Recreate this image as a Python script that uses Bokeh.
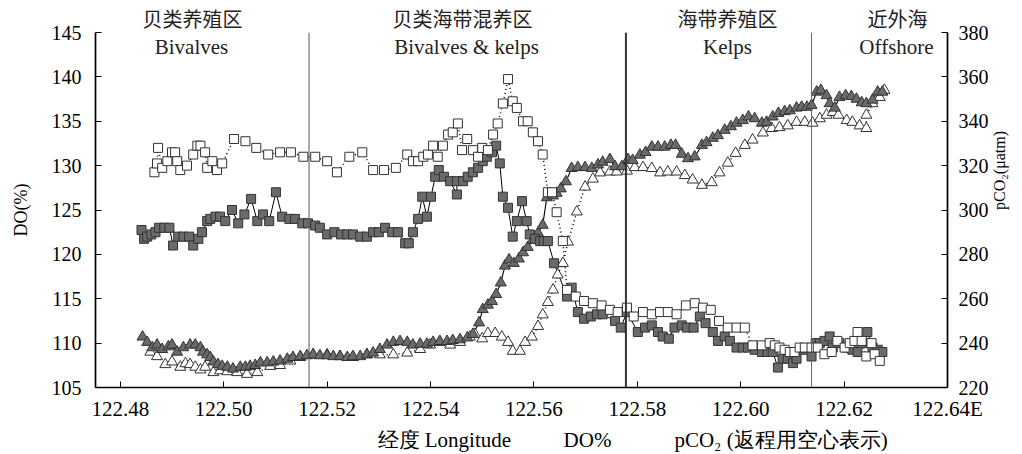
from bokeh.plotting import figure
from bokeh.models import Range1d, LinearAxis, FixedTicker, Span, Label, Title
from bokeh.embed import file_html
from bokeh.resources import INLINE

# ---------------- data ----------------
# pCO2 outbound (filled squares, right axis)
pco2_out_lon = [122.4841, 122.4846, 122.4852, 122.4860, 122.4868, 122.4875, 122.4885, 122.4895, 122.4902, 122.4912,
                122.4922, 122.4933, 122.4941, 122.4951, 122.4958, 122.4968, 122.4974, 122.4984, 122.4993, 122.5003,
                122.5016, 122.5028, 122.5040, 122.5053, 122.5065, 122.5076, 122.5088, 122.5101, 122.5113, 122.5127,
                122.5138, 122.5152, 122.5163, 122.5177, 122.5186, 122.5200, 122.5214, 122.5227, 122.5239, 122.5250,
                122.5264, 122.5277, 122.5289, 122.5300, 122.5312, 122.5326, 122.5337, 122.5351, 122.5358, 122.5366,
                122.5376, 122.5384, 122.5393, 122.5401, 122.5409, 122.5416, 122.5426, 122.5438, 122.5451, 122.5451,
                122.5463, 122.5472, 122.5482, 122.5492, 122.5501, 122.5509, 122.5519, 122.5527, 122.5534, 122.5540,
                122.5550, 122.5559, 122.5567, 122.5577, 122.5586, 122.5592, 122.5602, 122.5612, 122.5619, 122.5627,
                122.5639, 122.5664, 122.5673, 122.5685, 122.5697, 122.5710, 122.5722, 122.5733, 122.5757, 122.5768,
                122.5780, 122.5801, 122.5815, 122.5828, 122.5840, 122.5849, 122.5861, 122.5872, 122.5886, 122.5896,
                122.5909, 122.5921, 122.5932, 122.5946, 122.5956, 122.5969, 122.5979, 122.5992, 122.6004, 122.6014,
                122.6027, 122.6041, 122.6052, 122.6062, 122.6072, 122.6081, 122.6091, 122.6101, 122.6108, 122.6122,
                122.6137, 122.6145, 122.6153, 122.6162, 122.6172, 122.6178, 122.6191, 122.6205, 122.6216, 122.6226,
                122.6236, 122.6245, 122.6255, 122.6265, 122.6274]
pco2_out_val = [291, 287, 288, 289, 290, 292, 292, 292, 284, 288,
                288, 288, 284, 287, 290, 295, 296, 297, 297, 295,
                300, 294, 298, 305, 295, 298, 295, 308, 297, 296,
                296, 294, 294, 293, 292, 289, 290, 289, 289, 289,
                288, 288, 290, 290, 292, 290, 290, 285, 285, 290,
                296, 306, 297, 306, 315, 318, 315, 313, 307, 313,
                313, 315, 317, 319, 322, 324, 326, 329, 321, 306,
                301, 288, 295, 304, 295, 289, 287, 286, 286, 286,
                276, 261, 265, 254, 251, 252, 253, 253, 250, 247,
                254, 245, 247, 248, 245, 243, 242, 247, 248, 247,
                247, 252, 249, 245, 241, 243, 241, 238, 238, 238,
                237, 236, 236, 236, 229, 233, 233, 231, 233, 237,
                234, 240, 240, 241, 243, 238, 240, 238, 237, 236,
                240, 245, 238, 237, 236]

# pCO2 return trip (open squares, right axis)
pco2_ret_lon = [122.4866, 122.4871, 122.4873, 122.4881, 122.4891, 122.4900, 122.4906, 122.4910, 122.4916, 122.4929,
                122.4941, 122.4949, 122.4955, 122.4964, 122.4968, 122.4978, 122.4987, 122.4997, 122.5020, 122.5042,
                122.5063, 122.5086, 122.5109, 122.5130, 122.5154, 122.5177, 122.5200, 122.5219, 122.5243, 122.5268,
                122.5289, 122.5310, 122.5333, 122.5355, 122.5366, 122.5376, 122.5386, 122.5395, 122.5405, 122.5414,
                122.5424, 122.5434, 122.5443, 122.5453, 122.5461, 122.5471, 122.5482, 122.5492, 122.5500, 122.5511,
                122.5521, 122.5530, 122.5540, 122.5550, 122.5559, 122.5567, 122.5579, 122.5588, 122.5598, 122.5608,
                122.5617, 122.5627, 122.5635, 122.5644, 122.5656, 122.5664, 122.5681, 122.5697, 122.5714, 122.5731,
                122.5747, 122.5762, 122.5780, 122.5793, 122.5811, 122.5828, 122.5844, 122.5859, 122.5876, 122.5894,
                122.5911, 122.5927, 122.5942, 122.5958, 122.5975, 122.5992, 122.6008, 122.6023, 122.6041, 122.6056,
                122.6066, 122.6075, 122.6085, 122.6095, 122.6104, 122.6114, 122.6124, 122.6137, 122.6149, 122.6162,
                122.6176, 122.6187, 122.6201, 122.6211, 122.6220, 122.6226, 122.6234, 122.6243, 122.6253, 122.6259,
                122.6269]
pco2_ret_val = [317, 321, 328, 319, 322, 326, 326, 322, 318, 320,
                325, 329, 329, 326, 319, 322, 318, 321, 332, 331,
                328, 325, 326, 326, 324, 324, 322, 317, 324, 326,
                318, 318, 319, 325, 322, 322, 324, 325, 329, 324,
                329, 334, 335, 339, 327, 332, 327, 324, 328, 327,
                334, 339, 348, 359, 349, 346, 340, 340, 335, 331,
                325, 308, 308, 299, 286, 264, 261, 259, 258, 257,
                255, 254, 256, 252, 254, 253, 254, 254, 253, 257,
                258, 256, 255, 250, 247, 247, 247, 239, 239, 240,
                239, 238, 237, 236, 236, 238, 238, 238, 238, 235,
                236, 241, 238, 240, 241, 245, 241, 234, 240, 235,
                232]

# DO% outbound (filled triangles, left axis)
do_out_lon = [122.4843, 122.4852, 122.4862, 122.4871, 122.4881, 122.4893, 122.4900, 122.4910, 122.4922, 122.4935,
              122.4945, 122.4955, 122.4960, 122.4968, 122.4974, 122.4980, 122.4989, 122.4997, 122.5007, 122.5018,
              122.5032, 122.5042, 122.5051, 122.5061, 122.5071, 122.5084, 122.5096, 122.5109, 122.5123, 122.5134,
              122.5148, 122.5161, 122.5173, 122.5186, 122.5200, 122.5212, 122.5225, 122.5239, 122.5250, 122.5264,
              122.5277, 122.5289, 122.5302, 122.5316, 122.5328, 122.5341, 122.5355, 122.5366, 122.5380, 122.5393,
              122.5405, 122.5418, 122.5432, 122.5443, 122.5457, 122.5471, 122.5482, 122.5494, 122.5501, 122.5511,
              122.5519, 122.5527, 122.5536, 122.5544, 122.5552, 122.5561, 122.5571, 122.5579, 122.5588, 122.5598,
              122.5608, 122.5617, 122.5625, 122.5637, 122.5644, 122.5652, 122.5662, 122.5673, 122.5685, 122.5699,
              122.5712, 122.5724, 122.5733, 122.5747, 122.5757, 122.5770, 122.5782, 122.5791, 122.5805, 122.5816,
              122.5828, 122.5840, 122.5853, 122.5865, 122.5874, 122.5886, 122.5898, 122.5911, 122.5925, 122.5934,
              122.5946, 122.5956, 122.5969, 122.5981, 122.5992, 122.6004, 122.6015, 122.6027, 122.6041, 122.6050,
              122.6062, 122.6073, 122.6085, 122.6095, 122.6108, 122.6118, 122.6128, 122.6137, 122.6147, 122.6155,
              122.6166, 122.6172, 122.6182, 122.6191, 122.6203, 122.6214, 122.6224, 122.6234, 122.6243, 122.6255,
              122.6265, 122.6274]
do_out_val = [110.7, 110.1, 109.5, 109.8, 109.3, 109.6, 109.8, 109.0, 109.5, 109.8,
              109.8, 109.5, 109.0, 108.7, 108.4, 107.9, 107.6, 107.4, 107.3, 107.1,
              107.3, 107.3, 107.4, 107.5, 107.8, 107.8, 107.9, 108.0, 108.2, 108.4,
              108.5, 108.6, 108.7, 108.6, 108.6, 108.5, 108.5, 108.4, 108.5, 108.5,
              108.7, 108.9, 109.3, 109.8, 110.1, 110.2, 110.1, 109.8, 109.9, 109.9,
              110.1, 110.2, 110.2, 110.3, 110.4, 110.6, 111.0, 112.3, 113.8, 114.3,
              114.7, 115.5, 116.8, 118.7, 119.4, 119.0, 119.5, 120.2, 120.8, 121.6,
              122.4, 123.3, 126.4, 126.6, 126.9, 127.4, 128.2, 129.7, 129.8, 129.8,
              129.7, 130.1, 130.4, 130.7, 129.9, 129.9, 130.7, 130.6, 131.2, 131.5,
              132.1, 132.1, 132.1, 132.3, 132.3, 131.3, 130.8, 131.0, 132.3, 132.6,
              133.1, 133.4, 134.0, 134.4, 134.8, 135.1, 135.5, 135.3, 134.8, 134.9,
              135.5, 135.9, 136.1, 136.2, 136.5, 136.6, 136.6, 136.8, 138.3, 138.5,
              137.9, 137.0, 136.5, 137.7, 137.9, 137.8, 137.5, 137.1, 137.0, 137.4,
              138.3, 138.3]

# DO% return trip (open triangles, left axis)
do_ret_lon = [122.4858, 122.4871, 122.4887, 122.4900, 122.4916, 122.4926, 122.4935, 122.4945, 122.4955, 122.4964,
              122.4980, 122.4993, 122.5007, 122.5026, 122.5045, 122.5065, 122.5090, 122.5109, 122.5129, 122.5148,
              122.5173, 122.5200, 122.5225, 122.5250, 122.5277, 122.5302, 122.5328, 122.5355, 122.5380, 122.5399,
              122.5418, 122.5438, 122.5457, 122.5476, 122.5486, 122.5500, 122.5511, 122.5525, 122.5538, 122.5550,
              122.5559, 122.5573, 122.5583, 122.5596, 122.5608, 122.5617, 122.5627, 122.5637, 122.5646, 122.5656,
              122.5666, 122.5683, 122.5699, 122.5714, 122.5728, 122.5747, 122.5760, 122.5780, 122.5795, 122.5811,
              122.5828, 122.5844, 122.5859, 122.5876, 122.5892, 122.5907, 122.5925, 122.5944, 122.5959, 122.5975,
              122.5990, 122.6008, 122.6023, 122.6043, 122.6060, 122.6075, 122.6091, 122.6108, 122.6124, 122.6139,
              122.6153, 122.6166, 122.6178, 122.6189, 122.6205, 122.6216, 122.6230, 122.6243, 122.6243, 122.6255,
              122.6269, 122.6278]
do_ret_val = [109.0, 108.5, 107.6, 107.9, 107.3, 107.7, 107.6, 107.3, 107.0, 107.3,
              106.7, 106.9, 106.8, 106.7, 106.5, 106.7, 107.4, 107.5, 108.0, 108.4,
              108.7, 108.7, 108.5, 108.4, 108.7, 108.7, 108.7, 108.9, 109.3, 109.8,
              110.1, 109.8, 110.1, 110.7, 111.0, 110.5, 111.1, 111.1, 110.7, 110.1,
              109.1, 109.1, 110.1, 110.7, 111.9, 113.2, 114.6, 116.0, 117.7, 119.0,
              121.4, 124.8, 127.6, 128.5, 129.2, 129.3, 129.3, 129.4, 129.8, 129.8,
              129.7, 129.2, 129.3, 129.3, 128.9, 128.4, 127.8, 128.1, 129.2, 130.3,
              131.4, 132.3, 132.9, 133.7, 134.2, 134.3, 134.5, 134.9, 134.9, 134.8,
              135.3, 135.7, 136.0, 135.7, 135.1, 134.9, 134.5, 134.2, 135.7, 137.0,
              137.7, 138.5]

# zone boundaries (longitude) and labels
zone_bounds = [122.5165, 122.5778, 122.6137]
zone_names_cn = ["贝类养殖区", "贝类海带混养区", "海带养殖区", "近外海"]
zone_names_en = ["Bivalves", "Bivalves & kelps", "Kelps", "Offshore"]

x_ticks = [122.48, 122.50, 122.52, 122.54, 122.56, 122.58, 122.60, 122.62, 122.64]
x_tick_labels = ["122.48", "122.50", "122.52", "122.54", "122.56", "122.58", "122.60", "122.62", "122.64E"]
do_ticks = [105, 110, 115, 120, 125, 130, 135, 140, 145]
pco2_ticks = [220, 240, 260, 280, 300, 320, 340, 360, 380]

bottom_texts = ["经度 Longitude", "DO%", "pCO₂ (返程用空心表示)"]

SERIF = "Liberation Serif"
IDEO = "\u3000"   # ideographic space (1 em)
EM = "\u2003"
EN = "\u2002"
FOUR = "\u2005"

# ---------------- figure ----------------
p = figure(width=1022, height=454, output_backend="svg", toolbar_location=None,
           x_range=Range1d(122.4752, 122.6400), y_range=Range1d(105, 145),
           min_border_left=95, min_border_right=75, min_border_top=32, min_border_bottom=66,
           x_axis_location=None, y_axis_location=None)
p.extra_y_ranges = {"pco2": Range1d(220, 380)}
p.outline_line_color = None
p.xgrid.visible = False
p.ygrid.visible = False
p.background_fill_color = "white"
p.border_fill_color = "white"


def style_axis(ax):
    ax.axis_line_color = "black"
    ax.axis_line_width = 1.7
    ax.major_tick_in = 6
    ax.major_tick_out = 0
    ax.minor_tick_line_color = None
    ax.major_tick_line_color = "black"
    ax.major_label_text_font = SERIF
    ax.major_label_text_font_size = "20px"
    ax.major_label_text_color = "black"


xaxis = LinearAxis(ticker=FixedTicker(ticks=x_ticks))
style_axis(xaxis)
xaxis.major_label_text_font_size = "21px"
xaxis.major_label_overrides = {t: l for t, l in zip(x_ticks, x_tick_labels)}
xaxis.major_label_standoff = 9
p.add_layout(xaxis, "below")

yaxis = LinearAxis(ticker=FixedTicker(ticks=do_ticks), axis_label="DO(%)")
style_axis(yaxis)
yaxis.major_label_standoff = 14
yaxis.axis_label_text_font = SERIF
yaxis.axis_label_text_font_style = "normal"
yaxis.axis_label_text_font_size = "18px"
yaxis.axis_label_text_color = "black"
yaxis.axis_label_standoff = 18
p.add_layout(yaxis, "left")

raxis = LinearAxis(y_range_name="pco2", ticker=FixedTicker(ticks=pco2_ticks), axis_label="pCO₂(μatm)")
style_axis(raxis)
raxis.major_label_standoff = 11
raxis.axis_label_text_font = SERIF
raxis.axis_label_text_font_style = "normal"
raxis.axis_label_text_font_size = "16px"
raxis.axis_label_text_color = "black"
raxis.axis_label_standoff = 8
if "axis_label_orientation" in raxis.properties():
    raxis.axis_label_orientation = 1.5707963
p.add_layout(raxis, "right")

# zone separators
for loc, lw, col in zip(zone_bounds, [1, 2, 1], ["#555555", "#333333", "#666666"]):
    p.add_layout(Span(location=loc, dimension="height", line_color=col, line_width=lw))

# lines
p.line(do_ret_lon, do_ret_val, line_color="black", line_width=1.5, line_dash="1 3")
p.line(do_out_lon, do_out_val, line_color="black", line_width=1.1)
p.line(pco2_out_lon, pco2_out_val, y_range_name="pco2", line_color="black", line_width=1.0)
p.line(pco2_ret_lon, pco2_ret_val, y_range_name="pco2", line_color="black", line_width=1.5, line_dash="1 3")

# markers
p.scatter(do_ret_lon, do_ret_val, marker="triangle", size=11, fill_color="white", line_color="#333333", line_width=1)
p.scatter(do_out_lon, do_out_val, marker="triangle", size=11, fill_color="#6a6a6a", line_color="#333333", line_width=1)
p.scatter(pco2_out_lon, pco2_out_val, y_range_name="pco2", marker="square", size=9,
          fill_color="#6a6a6a", line_color="#333333", line_width=1)
p.scatter(pco2_ret_lon, pco2_ret_val, y_range_name="pco2", marker="square", size=9,
          fill_color="white", line_color="#333333", line_width=1)

# English zone labels inside the frame (screen units from frame bottom-left)
zone_cx = [96, 371, 632, 801]
for cx, en in zip(zone_cx, zone_names_en):
    p.add_layout(Label(x=cx, y=341, x_units="screen", y_units="screen", text=en,
                       text_font=SERIF, text_font_size="21px", text_align="center",
                       text_baseline="middle", text_color="#222222"))

# Chinese zone names above the frame (one title row, spaced with ideographic spaces)
top_text = (zone_names_cn[0] + IDEO * 7 + EN + zone_names_cn[1] + IDEO * 7 + FOUR + zone_names_cn[2]
            + IDEO * 4 + EN + zone_names_cn[3])
p.add_layout(Title(text=top_text, align="left", offset=47, standoff=0,
                   text_font="Noto Sans CJK SC", text_font_size="20px", text_font_style="normal",
                   text_color="#222222"), "above")

# bottom texts below the axis (one title row)
bottom_text = bottom_texts[0] + EM * 2 + EN + bottom_texts[1] + EM * 3 + bottom_texts[2]
p.add_layout(Title(text=bottom_text, align="left", offset=282, standoff=5,
                   text_font=SERIF, text_font_size="21px", text_font_style="normal",
                   text_color="black"), "below")

open("out.html", "w").write(file_html(p, INLINE))
